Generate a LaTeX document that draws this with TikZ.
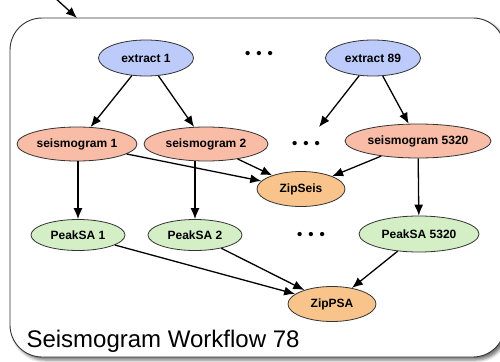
\documentclass[tikz,border=0pt]{standalone}
\usepackage{fontspec}
\setmainfont{Liberation Sans}
\usetikzlibrary{shapes.geometric,arrows.meta,shadows.blur}

\definecolor{extractfill}{HTML}{BCCBFA}
\definecolor{seisfill}{HTML}{F9BCA6}
\definecolor{zipfill}{HTML}{F9C48C}
\definecolor{peakfill}{HTML}{D4EEC6}
\definecolor{rim}{HTML}{333333}

\tikzset{
  job/.style={ellipse, draw=rim, line width=0.8pt, inner sep=0pt,
    font=\fontsize{12}{13}\selectfont\bfseries},
  extractjob/.style={job, fill=extractfill, minimum width=95, minimum height=36},
  seisjob/.style={job, fill=seisfill, minimum height=34},
  zipjob/.style={job, fill=zipfill, minimum width=88, minimum height=35},
  peakjob/.style={job, fill=peakfill, minimum height=31},
  flow/.style={-{Latex[length=11pt,width=9pt]}, line width=1.3pt, black},
  ellipsis/.style={inner sep=0pt, font=\fontsize{15}{15}\selectfont\bfseries},
}

\newcommand{\threedots}{\textbullet\hspace{6pt}\textbullet\hspace{6pt}\textbullet}

\begin{document}
\begin{tikzpicture}[x=1pt, y=-1pt]
  \useasboundingbox (0,0) rectangle (500,361);
  \clip (0,0) rectangle (500,361);

  % workflow container with drop shadow
  \node[draw=rim, line width=0.9pt, fill=white, rounded corners=32pt,
        minimum width=495pt, minimum height=339pt, inner sep=0pt,
        blur shadow={shadow xshift=3pt, shadow yshift=-3pt,
                     shadow blur radius=3pt, shadow opacity=55}]
        (wf) at (257.5,187.5) {};
  \node[anchor=base west, font=\fontsize{24}{26}\selectfont] (wflabel)
        at (23,347) {Seismogram Workflow 78};

  % incoming arrow
  \coordinate (src) at (53,-4);
  \coordinate (entry) at (77,18);
  \draw[flow] (src) -- (entry);

  % extraction jobs
  \node[extractjob] (ex1)  at (146,58) {extract 1};
  \node[extractjob] (ex89) at (373,58) {extract 89};
  \node[ellipsis]   (dotsA) at (259,55) {\threedots};

  % seismogram jobs
  \node[seisjob, minimum width=120] (s1)    at (77,144)  {seismogram 1};
  \node[seisjob, minimum width=124] (s2)    at (206,144) {seismogram 2};
  \node[seisjob, minimum width=146] (s5320) at (418,141) {seismogram 5320};
  \node[ellipsis] (dotsB) at (306,145) {\threedots};
  \coordinate (dotsin) at (319,127);

  % zip jobs
  \node[zipjob] (zipseis) at (301,189) {ZipSeis};
  \node[zipjob] (zippsa)  at (332,304) {ZipPSA};

  % peak spectral acceleration jobs
  \node[peakjob, minimum width=94]  (p1)    at (78,235)  {PeakSA 1};
  \node[peakjob, minimum width=94]  (p2)    at (195,235) {PeakSA 2};
  \node[peakjob, minimum width=120, minimum height=36] (p5320) at (419,234) {PeakSA 5320};
  \node[ellipsis] (dotsC) at (311,236) {\threedots};

  % dependencies
  \draw[flow] (ex1) -- (s1);
  \draw[flow] (ex1) -- (s2);
  \draw[flow] (ex89) -- (dotsin);
  \draw[flow] (ex89) -- (s5320);

  \draw[flow] (s1.south -| p1.north) -- (p1.north);
  \draw[flow] (s2.south -| p2.north) -- (p2.north);
  \draw[flow] (s5320) -- (p5320);

  \draw[flow] (s1) -- (zipseis);
  \draw[flow] (s2) -- (zipseis);
  \draw[flow] (s5320) -- (zipseis);

  \draw[flow] (p1) -- (zippsa);
  \draw[flow] (p2) -- (zippsa);
  \draw[flow] (p5320) -- (zippsa);
\end{tikzpicture}
\end{document}
